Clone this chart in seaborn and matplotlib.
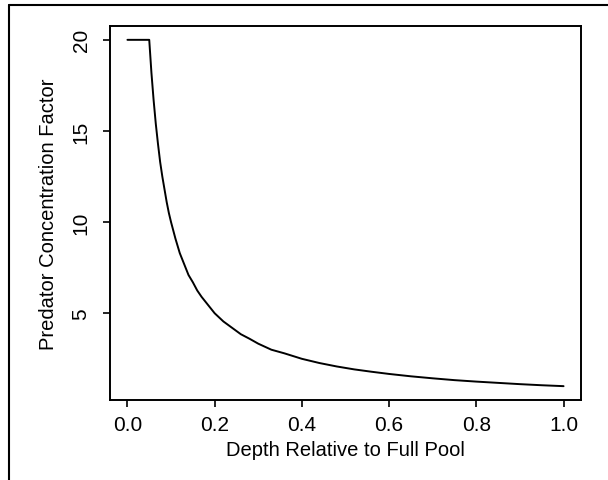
import numpy as np
import pandas as pd
import seaborn as sns
import matplotlib.pyplot as plt
from matplotlib.lines import Line2D

# values
depth = [0.00, 0.05, 0.055, 0.06, 0.065, 0.07, 0.075, 0.08, 0.085, 0.09, 0.095, 0.10,
         0.11, 0.12, 0.13, 0.14, 0.15, 0.16, 0.17, 0.18, 0.19, 0.20, 0.22, 0.24,
         0.26, 0.28, 0.30, 0.33, 0.36, 0.40, 0.44, 0.48, 0.52, 0.56, 0.60, 0.65,
         0.70, 0.75, 0.80, 0.85, 0.90, 0.95, 1.00]
factor = [20.0, 20.0, 18.2, 16.7, 15.4, 14.3, 13.3, 12.5, 11.8, 11.1, 10.5, 10.0,
          9.1, 8.3, 7.7, 7.1, 6.7, 6.25, 5.9, 5.6, 5.3, 5.0, 4.55, 4.2,
          3.85, 3.6, 3.33, 3.0, 2.8, 2.5, 2.27, 2.08, 1.92, 1.79, 1.67, 1.54,
          1.43, 1.33, 1.25, 1.18, 1.11, 1.05, 1.0]
xticks = [0.0, 0.2, 0.4, 0.6, 0.8, 1.0]
yticks = [5, 10, 15, 20]

df = pd.DataFrame({"depth": depth, "factor": factor})

sns.set_style("ticks")
plt.rcParams["font.family"] = ["Liberation Sans", "DejaVu Sans"]
plt.rcParams["text.color"] = "black"
plt.rcParams["axes.labelcolor"] = "black"

fig = plt.figure(figsize=(6.08, 4.81), dpi=100)
ax = fig.add_axes([0.1809, 0.1663, 0.7747, 0.7776])

sns.lineplot(data=df, x="depth", y="factor", ax=ax, color="black", linewidth=1.4,
             estimator=None, sort=False)

ax.set_xlim(-0.04, 1.04)
ax.set_ylim(0.24, 20.76)
ax.set_xticks(xticks)
ax.set_xticklabels([f"{v:.1f}" for v in xticks])
ax.set_yticks(yticks)
ax.set_yticklabels([str(v) for v in yticks], rotation=90, va="center")
ax.tick_params(axis="both", direction="out", length=5, width=1.2, labelsize=15,
               color="black", labelcolor="black", pad=6)
ax.tick_params(axis="y", pad=9)
for s in ax.spines.values():
    s.set_visible(True)
    s.set_linewidth(1.4)
    s.set_color("black")

ax.set_xlabel("Depth Relative to Full Pool", fontsize=14.5, labelpad=4, color="black")
ax.set_ylabel("Predator Concentration Factor", fontsize=14.5, labelpad=10, color="black")

# outer frame fragments
fig.add_artist(Line2D([0.0148, 1.0], [0.9875, 0.9875], color="black", lw=1.5, transform=fig.transFigure))
fig.add_artist(Line2D([0.0148, 0.0148], [0.0, 0.9875], color="black", lw=1.5, transform=fig.transFigure))

fig.savefig("out.png", dpi=100)
